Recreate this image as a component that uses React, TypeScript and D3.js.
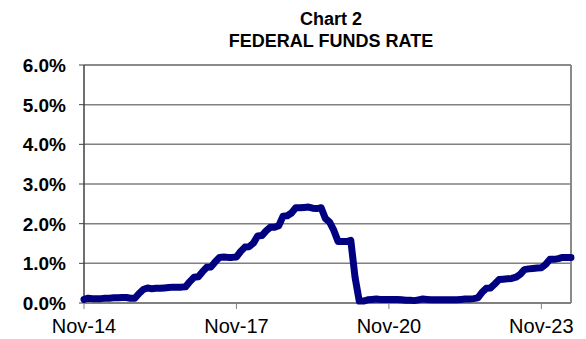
import React from "react";
import * as d3 from "d3";

const titleLines = ["Chart 2", "FEDERAL FUNDS RATE"];

// Monthly federal funds rate (%), Nov-2014 .. Jun-2024
const rateValues = [
  0.09, 0.12, 0.11, 0.11, 0.11, 0.12, 0.12, 0.13, 0.13, 0.14, 0.14, 0.12, 0.12,
  0.24, 0.34, 0.38, 0.36, 0.37, 0.37, 0.38, 0.39, 0.40, 0.40, 0.40, 0.41,
  0.54, 0.65, 0.66, 0.79, 0.90, 0.91, 1.04, 1.15, 1.16, 1.15, 1.15, 1.16,
  1.30, 1.41, 1.42, 1.51, 1.69, 1.70, 1.82, 1.91, 1.91, 1.95, 2.19, 2.20,
  2.27, 2.40, 2.40, 2.41, 2.42, 2.39, 2.38, 2.40, 2.13, 2.04, 1.83, 1.55,
  1.55, 1.55, 1.58, 0.65, 0.05, 0.05, 0.08, 0.09, 0.10, 0.09, 0.09, 0.09,
  0.09, 0.09, 0.08, 0.07, 0.07, 0.06, 0.08, 0.10, 0.09, 0.08, 0.08, 0.08,
  0.08, 0.08, 0.08, 0.08, 0.09, 0.10, 0.10, 0.11, 0.13, 0.27, 0.37, 0.38,
  0.48, 0.59, 0.60, 0.61, 0.62, 0.65, 0.72, 0.84, 0.86, 0.87, 0.88, 0.89,
  0.97, 1.10, 1.10, 1.12, 1.15, 1.15, 1.15,
];

const xTickLabels = ["Nov-14", "Nov-17", "Nov-20", "Nov-23"];
const xTickIndices = [0, 36, 72, 108];
const yTicks = [0, 1, 2, 3, 4, 5, 6];

const W = 586;
const H = 339;
const left = 84;
const right = 571;
const top = 65;
const bottom = 303;
const font = "'Liberation Sans', Arial, Helvetica, sans-serif";

export default function App() {
  const x = d3.scaleLinear().domain([0, rateValues.length - 1]).range([left, right]);
  const y = d3.scaleLinear().domain([0, 6]).range([bottom, top]);
  const line = d3
    .line<number>()
    .x((_, i) => x(i))
    .y((d) => y(d))
    .curve(d3.curveLinear);

  return (
    <svg
      width={W}
      height={H}
      style={{ position: "absolute", left: 0, top: 0, background: "#fff" }}
      fontFamily={font}
    >
      <rect x={0} y={0} width={W} height={H} fill="#fff" />
      {/* title */}
      {titleLines.map((t, i) => (
        <text
          key={t}
          x={331}
          y={25 + i * 22}
          textAnchor="middle"
          fontWeight="bold"
          fontSize={18}
          fill="#000"
        >
          {t}
        </text>
      ))}
      {/* gridlines */}
      {yTicks.slice(1, -1).map((t) => (
        <line
          key={t}
          x1={left}
          x2={right}
          y1={y(t)}
          y2={y(t)}
          stroke="#808080"
          strokeWidth={1.5}
        />
      ))}
      {/* frame top & right */}
      <line x1={left} x2={right} y1={top} y2={top} stroke="#8a8a8a" strokeWidth={2} />
      <line x1={right} x2={right} y1={top} y2={bottom} stroke="#8a8a8a" strokeWidth={2} />
      {/* bottom axis */}
      <line x1={left} x2={right} y1={bottom} y2={bottom} stroke="#808080" strokeWidth={2} />
      {/* left axis */}
      <line x1={left} x2={left} y1={top} y2={bottom} stroke="#404040" strokeWidth={1.5} />
      {/* y ticks and labels */}
      {yTicks.map((t) => (
        <g key={t}>
          <line x1={left - 5} x2={left} y1={y(t)} y2={y(t)} stroke="#404040" strokeWidth={1} />
          <text
            x={66}
            y={y(t)}
            dy="0.36em"
            textAnchor="end"
            fontWeight="bold"
            fontSize={19}
            fill="#000"
          >
            {t.toFixed(1) + "%"}
          </text>
        </g>
      ))}
      {/* x ticks and labels */}
      {xTickIndices.map((idx, i) => (
        <g key={idx}>
          <line x1={x(idx)} x2={x(idx)} y1={bottom} y2={bottom + 6} stroke="#808080" strokeWidth={1} />
          <text x={x(idx)} y={333} textAnchor="middle" fontSize={20} fill="#000">
            {xTickLabels[i]}
          </text>
        </g>
      ))}
      {/* series */}
      <path
        d={line(rateValues) || ""}
        fill="none"
        stroke="#000080"
        strokeWidth={7}
        strokeLinejoin="round"
        strokeLinecap="round"
      />
    </svg>
  );
}
